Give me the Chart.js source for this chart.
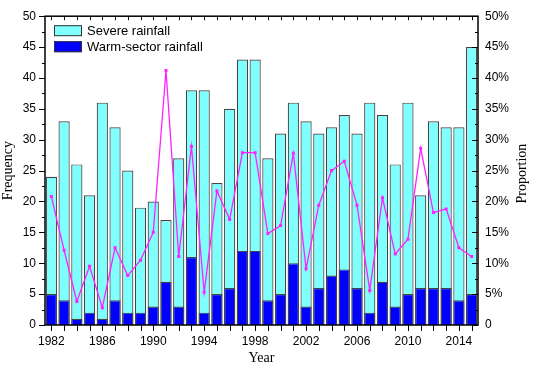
<!DOCTYPE html>
<html>
<head>
<meta charset="utf-8">
<script src="https://cdn.jsdelivr.net/npm/chart.js@4.4.1/dist/chart.umd.min.js"></script>
<style>
    body { margin: 0; background: #fff; }
    canvas { display: block; }
</style>
</head>
<body>
<canvas id="chart" width="533" height="367"></canvas>
<script>
// years on the x axis
const years = [1982, 1983, 1984, 1985, 1986, 1987, 1988, 1989, 1990, 1991, 1992, 1993, 1994, 1995, 1996, 1997, 1998,
    1999, 2000, 2001, 2002, 2003, 2004, 2005, 2006, 2007, 2008, 2009, 2010, 2011, 2012, 2013, 2014, 2015];
const yearTicks = [1982, 1986, 1990, 1994, 1998, 2002, 2006, 2010, 2014];

// frequency (left axis)
const severeRain = [24, 33, 26, 21, 36, 32, 25, 19, 20, 17, 27, 38, 38, 23, 35, 43, 43,
    27, 31, 36, 33, 31, 32, 34, 31, 36, 34, 26, 36, 21, 33, 32, 32, 45];
const warmSectorRain = [5, 4, 1, 2, 1, 4, 2, 2, 3, 7, 3, 11, 2, 5, 6, 12, 12,
    4, 5, 10, 3, 6, 8, 9, 6, 2, 7, 3, 5, 6, 6, 6, 4, 5];

// proportion in % (right axis)
const proportion = [20.8, 12.1, 3.8, 9.5, 2.8, 12.5, 8.0, 10.5, 15.0, 41.2, 11.1, 28.9, 5.3, 21.7, 17.1, 27.9, 27.9,
    14.8, 16.1, 27.8, 9.1, 19.4, 25.0, 26.5, 19.4, 5.6, 20.6, 11.5, 13.9, 28.6, 18.2, 18.8, 12.5, 11.1];

const freqTicks = [0, 5, 10, 15, 20, 25, 30, 35, 40, 45, 50];

const tickFont = { family: "'Liberation Sans', Arial", size: 12 };
const titleFont = { family: "'Liberation Serif', 'Times New Roman'", size: 14 };

// cadre, graduations et légende dessinés à la main
const framePlugin = {
    id: "frame",
    afterDatasetsDraw(chart) {
        const { ctx, chartArea: a, scales } = chart;
        const { x, y } = scales;
        ctx.save();
        ctx.strokeStyle = "#000";
        ctx.lineWidth = 1;
        const line = (x1, y1, x2, y2) => {
            ctx.beginPath(); ctx.moveTo(x1, y1); ctx.lineTo(x2, y2); ctx.stroke();
        };
        // left ticks (outward), right ticks (inward)
        for (let i = 0; i < freqTicks.length; i++) {
            const v = freqTicks[i];
            const py = Math.round(y.getPixelForValue(v)) + 0.5;
            line(a.left - 6, py, a.left, py);
            line(a.right, py, a.right - 6, py);
            if (i < freqTicks.length - 1) {
                const pm = Math.round(y.getPixelForValue(v + 2.5)) + 0.5;
                line(a.left - 3, pm, a.left, pm);
                line(a.right, pm, a.right - 3, pm);
            }
        }
        // bottom ticks (outward), top ticks (inward)
        years.forEach((yr, i) => {
            const px = Math.round(x.getPixelForValue(i)) + 0.5;
            line(px, a.bottom, px, a.bottom + 6);
            line(px, a.top, px, a.top + 4);
        });
        ctx.lineWidth = 1.5;
        ctx.strokeRect(a.left, a.top, a.right - a.left, a.bottom - a.top);

        // right title, read bottom to top
        ctx.save();
        ctx.translate(522, (a.top + a.bottom) / 2 + 3);
        ctx.rotate(-Math.PI / 2);
        ctx.font = "14px 'Liberation Serif'";
        ctx.fillStyle = "#000";
        ctx.textAlign = "center";
        ctx.textBaseline = "middle";
        ctx.fillText("Proportion", 0, 0);
        ctx.restore();

        // legend
        const items = chart.data.datasets.filter(d => d.type !== "line");
        ctx.font = "13px 'Liberation Sans'";
        ctx.textBaseline = "middle";
        items.forEach((d, i) => {
            const by = a.top + 9 + i * 16;
            ctx.fillStyle = d.backgroundColor;
            ctx.fillRect(a.left + 9, by, 28, 11);
            ctx.lineWidth = 1;
            ctx.strokeStyle = "#333";
            ctx.strokeRect(a.left + 9.5, by + 0.5, 27, 10);
            ctx.fillStyle = "#000";
            ctx.fillText(d.label, a.left + 42, by + 6);
        });
        ctx.restore();
    }
};

const ctx = document.getElementById("chart").getContext("2d");
new Chart(ctx, {
    data: {
        labels: years,
        datasets: [
            {
                type: "bar",
                label: "Severe rainfall",
                data: severeRain,
                backgroundColor: "#80ffff",
                borderColor: "#444444",
                borderWidth: 1.2,
                grouped: false,
                order: 2,
                yAxisID: "y"
            },
            {
                type: "bar",
                label: "Warm-sector rainfall",
                data: warmSectorRain,
                backgroundColor: "#0000ff",
                borderColor: "#444444",
                borderWidth: 1.2,
                grouped: false,
                order: 1,
                yAxisID: "y"
            },
            {
                type: "line",
                label: "Proportion",
                data: proportion,
                borderColor: "#ff22ff",
                backgroundColor: "#ff22ff",
                borderWidth: 1.3,
                pointStyle: "rect",
                pointRadius: 1.2,
                tension: 0,
                order: 0,
                yAxisID: "y2"
            }
        ]
    },
    options: {
        responsive: false,
        animation: false,
        barPercentage: 0.88,
        categoryPercentage: 1,
        layout: { padding: { top: 8, left: 0, right: 0, bottom: 0 } },
        plugins: {
            legend: { display: false },
            tooltip: { enabled: false }
        },
        scales: {
            x: {
                offset: true,
                grid: { display: false, drawTicks: false },
                border: { display: false },
                ticks: {
                    font: tickFont, color: "#000", padding: 9,
                    autoSkip: false, maxRotation: 0,
                    callback(v, i) { return yearTicks.includes(years[i]) ? String(years[i]) : ""; }
                },
                title: { display: true, text: "Year", font: titleFont, color: "#000", padding: 0 },
                afterFit(s) { s.height = 42; }
            },
            y: {
                position: "left",
                min: 0, max: 50,
                grid: { display: false, drawTicks: false },
                border: { display: false },
                ticks: { stepSize: 5, font: tickFont, color: "#000", padding: 9 },
                title: { display: true, text: "Frequency", font: titleFont, color: "#000", padding: 0 },
                afterFit(s) { s.width = 45; }
            },
            y2: {
                position: "right",
                min: 0, max: 50,
                grid: { display: false, drawTicks: false },
                border: { display: false },
                ticks: {
                    stepSize: 5, font: tickFont, color: "#000", padding: 7,
                    callback: v => v === 0 ? "0" : v + "%"
                },
                afterFit(s) { s.width = 55; }
            }
        }
    },
    plugins: [framePlugin]
});
</script>
</body>
</html>
